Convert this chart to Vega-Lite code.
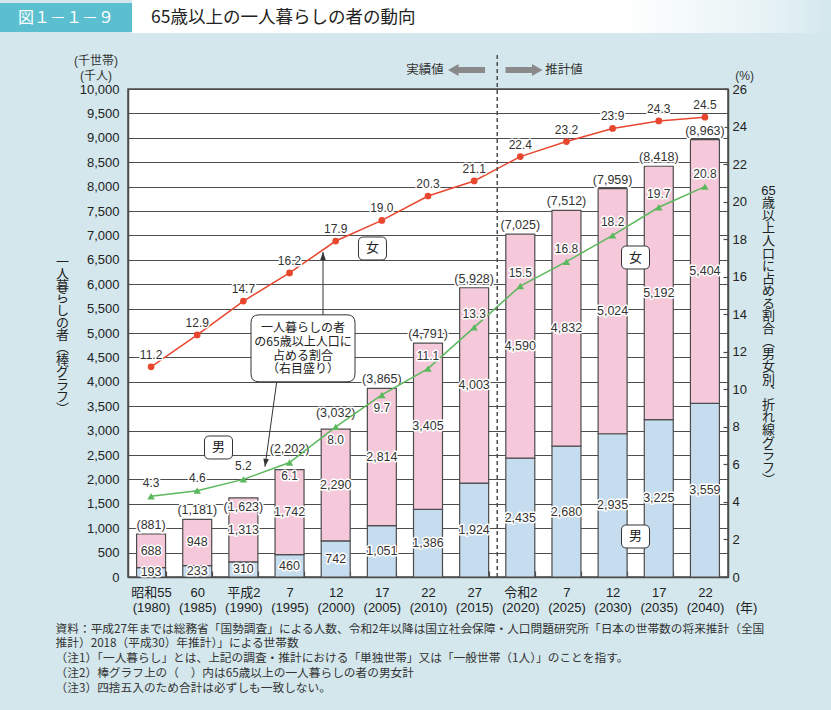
{
"$schema":"https://vega.github.io/schema/vega-lite/v6.json",
"width":600,"height":488,
"autosize":{"type":"none"},
"padding":{"left":128,"top":89,"right":103,"bottom":133},
"background":"#d3e7ed",
"config":{"font":"Liberation Sans, Noto Sans CJK JP, sans-serif","view":{"fill":"white","stroke":"#4d4d4d","strokeWidth":1.5}},
"datasets":{
"years":[
{"cat":"昭和55|(1980)","year":1980,"male":193,"female":688,"total":881,"fr":11.2,"mr":4.3},
{"cat":"60|(1985)","year":1985,"male":233,"female":948,"total":1181,"fr":12.9,"mr":4.6},
{"cat":"平成2|(1990)","year":1990,"male":310,"female":1313,"total":1623,"fr":14.7,"mr":5.2},
{"cat":"7|(1995)","year":1995,"male":460,"female":1742,"total":2202,"fr":16.2,"mr":6.1},
{"cat":"12|(2000)","year":2000,"male":742,"female":2290,"total":3032,"fr":17.9,"mr":8.0},
{"cat":"17|(2005)","year":2005,"male":1051,"female":2814,"total":3865,"fr":19.0,"mr":9.7},
{"cat":"22|(2010)","year":2010,"male":1386,"female":3405,"total":4791,"fr":20.3,"mr":11.1},
{"cat":"27|(2015)","year":2015,"male":1924,"female":4003,"total":5928,"fr":21.1,"mr":13.3},
{"cat":"令和2|(2020)","year":2020,"male":2435,"female":4590,"total":7025,"fr":22.4,"mr":15.5},
{"cat":"7|(2025)","year":2025,"male":2680,"female":4832,"total":7512,"fr":23.2,"mr":16.8},
{"cat":"12|(2030)","year":2030,"male":2935,"female":5024,"total":7959,"fr":23.9,"mr":18.2},
{"cat":"17|(2035)","year":2035,"male":3225,"female":5192,"total":8418,"fr":24.3,"mr":19.7},
{"cat":"22|(2040)","year":2040,"male":3559,"female":5404,"total":8963,"fr":24.5,"mr":20.8}
],
"notes":[
{"kind":"strip","ax":7.659,"ay":11486},
{"kind":"badge","ax":-1.343,"ay":11465,"label":"図１－１－９"},
{"kind":"title","ax":0.498,"ay":11465,"label":"65歳以上の一人暮らしの者の動向"},
{"kind":"divider","ax":8,"ay":0,"ay2":10738},
{"kind":"arrowL","ax":7.334,"ay":10389},
{"kind":"arrowR","ax":8.58,"ay":10389},
{"kind":"hdr","ax":6.435,"ay":10389,"label":"実績値"},
{"kind":"hdr","ax":9.447,"ay":10389,"label":"推計値"},
{"kind":"unit","ax":-0.693,"ay":10674,"label":["(千世帯)","(千人)"]},
{"kind":"unit","ax":13.36,"ay":10367,"label":"(%)"},
{"kind":"leader","ax":4.225,"ay":5369,"ax2":4.225,"ay2":6660},
{"kind":"leader","ax":3.222,"ay":4000,"ax2":2.968,"ay2":2260},
{"kind":"headUp","ax":4.225,"ay":6660},
{"kind":"headDown","ax":2.968,"ay":2260},
{"kind":"tag","ax":5.297,"ay":6732,"label":"女"},
{"kind":"tag","ax":10.996,"ay":6547,"label":"女"},
{"kind":"tag","ax":1.961,"ay":2654,"label":"男"},
{"kind":"tag","ax":10.996,"ay":830,"label":"男"},
{"kind":"callbox","ax":3.792,"ay":4686},
{"kind":"calltext","ax":3.792,"ay":5197,"label":["一人暮らしの者","の65歳以上人口に","占める割合","（右目盛り）"]},
{"kind":"source","ax":-1.569,"ay":-953,"label":["資料：平成27年までは総務省「国勢調査」による人数、令和2年以降は国立社会保障・人口問題研究所「日本の世帯数の将来推計（全国","　　　推計）2018（平成30）年推計）」による世帯数","（注1）「一人暮らし」とは、上記の調査・推計における「単独世帯」又は「一般世帯（1人）」のことを指す。","（注2）棒グラフ上の（　）内は65歳以上の一人暮らしの者の男女計","（注3）四捨五入のため合計は必ずしも一致しない。"]}
]
},
"layer":[
{
"data":{"name":"years"},
"encoding":{"x":{"field":"cat","type":"nominal","sort":null,
"scale":{"type":"band","domain":["昭和55|(1980)","60|(1985)","平成2|(1990)","7|(1995)","12|(2000)","17|(2005)","22|(2010)","27|(2015)","令和2|(2020)","7|(2025)","12|(2030)","17|(2035)","22|(2040)"],"paddingInner":0.372,"paddingOuter":0.186},
"axis":{"orient":"bottom","labelExpr":"isValid(datum.value) ? split(datum.value,'|') : ''","labelAngle":0,"labelFontSize":13,"labelColor":"#222","labelLineHeight":15,"labelPadding":15,"tickBand":"extent","tickSize":-6,"tickColor":"#4d4d4d","tickWidth":1.2,"domainColor":"#4d4d4d","domainWidth":1.5,"title":"(年)","titleX":618,"titleY":30,"titleAlign":"center","titleBaseline":"middle","titleFontSize":13,"titleFontWeight":"normal","titleColor":"#222"}}},
"layer":[
{"transform":[{"fold":["male","female"],"as":["sex","v"]},{"stack":"v","groupby":["cat"],"sort":[{"field":"sex","order":"descending"}],"as":["v0","v1"]}],
"mark":{"type":"bar","stroke":"#4d4d4d","strokeWidth":1.2},
"encoding":{"y":{"field":"v0","type":"quantitative","scale":{"domain":[0,10000],"nice":false,"zero":false},
"axis":{"orient":"left","tickCount":20,"format":",d","grid":true,"gridColor":"#4d4d4d","gridWidth":1.2,"ticks":false,"domainColor":"#4d4d4d","domainWidth":1.5,"labelFontSize":13,"labelColor":"#222","labelPadding":9,
"title":["一","人","暮","ら","し","の","者","︵","棒","グ","ラ","フ","︶"],"titleAngle":0,"titleX":-66,"titleY":166,"titleAlign":"center","titleBaseline":"top","titleFontSize":13,"titleFontWeight":"normal","titleLineHeight":12.3,"titleColor":"#222"}},
"y2":{"field":"v1"},
"color":{"field":"sex","type":"nominal","scale":{"domain":["male","female"],"range":["#c6dcef","#f5c9da"]},"legend":null}}},
{"transform":[{"fold":["male","female"],"as":["sex","v"]},{"stack":"v","groupby":["cat"],"sort":[{"field":"sex","order":"descending"}],"as":["v0","v1"]},{"fold":["v0","v1"],"as":["bk","bv"]},{"aggregate":[{"op":"mean","field":"bv","as":"mid"}],"groupby":["cat","sex","v"]}],
"mark":{"type":"text","fontSize":12.5,"baseline":"middle","fill":"white","stroke":"white","strokeWidth":3,"strokeJoin":"round"},
"encoding":{"y":{"field":"mid","type":"quantitative","scale":{"domain":[0,10000],"nice":false,"zero":false},"axis":null},"text":{"field":"v","type":"quantitative","format":","}}},
{"transform":[{"fold":["male","female"],"as":["sex","v"]},{"stack":"v","groupby":["cat"],"sort":[{"field":"sex","order":"descending"}],"as":["v0","v1"]},{"fold":["v0","v1"],"as":["bk","bv"]},{"aggregate":[{"op":"mean","field":"bv","as":"mid"}],"groupby":["cat","sex","v"]}],
"mark":{"type":"text","fontSize":12.5,"baseline":"middle","fill":"#333"},
"encoding":{"y":{"field":"mid","type":"quantitative","scale":{"domain":[0,10000],"nice":false,"zero":false},"axis":null},"text":{"field":"v","type":"quantitative","format":","}}},
{"transform":[{"filter":{"not":{"field":"year","oneOf":[1990,1995,2000]}}}],
"mark":{"type":"text","fontSize":12.5,"baseline":"middle","dy":-9,"fill":"white","stroke":"white","strokeWidth":3,"strokeJoin":"round","text":{"expr":"'(' + format(datum.total, ',') + ')'"}},
"encoding":{"y":{"field":"total","type":"quantitative","scale":{"domain":[0,10000],"nice":false,"zero":false},"axis":null}}},
{"transform":[{"filter":{"not":{"field":"year","oneOf":[1990,1995,2000]}}}],
"mark":{"type":"text","fontSize":12.5,"baseline":"middle","dy":-9,"fill":"#333","text":{"expr":"'(' + format(datum.total, ',') + ')'"}},
"encoding":{"y":{"field":"total","type":"quantitative","scale":{"domain":[0,10000],"nice":false,"zero":false},"axis":null}}},
{"transform":[{"filter":{"field":"year","equal":1990}}],
"mark":{"type":"text","fontSize":12.5,"baseline":"middle","dy":9,"fill":"white","stroke":"white","strokeWidth":3,"strokeJoin":"round","text":{"expr":"'(' + format(datum.total, ',') + ')'"}},
"encoding":{"y":{"field":"total","type":"quantitative","scale":{"domain":[0,10000],"nice":false,"zero":false},"axis":null}}},
{"transform":[{"filter":{"field":"year","equal":1990}}],
"mark":{"type":"text","fontSize":12.5,"baseline":"middle","dy":9,"fill":"#333","text":{"expr":"'(' + format(datum.total, ',') + ')'"}},
"encoding":{"y":{"field":"total","type":"quantitative","scale":{"domain":[0,10000],"nice":false,"zero":false},"axis":null}}},
{"transform":[{"filter":{"field":"year","equal":1995}}],
"mark":{"type":"text","fontSize":12.5,"baseline":"middle","dy":-21,"fill":"white","stroke":"white","strokeWidth":3,"strokeJoin":"round","text":{"expr":"'(' + format(datum.total, ',') + ')'"}},
"encoding":{"y":{"field":"total","type":"quantitative","scale":{"domain":[0,10000],"nice":false,"zero":false},"axis":null}}},
{"transform":[{"filter":{"field":"year","equal":1995}}],
"mark":{"type":"text","fontSize":12.5,"baseline":"middle","dy":-21,"fill":"#333","text":{"expr":"'(' + format(datum.total, ',') + ')'"}},
"encoding":{"y":{"field":"total","type":"quantitative","scale":{"domain":[0,10000],"nice":false,"zero":false},"axis":null}}},
{"transform":[{"filter":{"field":"year","equal":2000}}],
"mark":{"type":"text","fontSize":12.5,"baseline":"middle","dy":-16,"fill":"white","stroke":"white","strokeWidth":3,"strokeJoin":"round","text":{"expr":"'(' + format(datum.total, ',') + ')'"}},
"encoding":{"y":{"field":"total","type":"quantitative","scale":{"domain":[0,10000],"nice":false,"zero":false},"axis":null}}},
{"transform":[{"filter":{"field":"year","equal":2000}}],
"mark":{"type":"text","fontSize":12.5,"baseline":"middle","dy":-16,"fill":"#333","text":{"expr":"'(' + format(datum.total, ',') + ')'"}},
"encoding":{"y":{"field":"total","type":"quantitative","scale":{"domain":[0,10000],"nice":false,"zero":false},"axis":null}}},
{"mark":{"type":"line","color":"#e8472f","strokeWidth":1.5},
"encoding":{"y":{"field":"fr","type":"quantitative","scale":{"domain":[0,26],"nice":false,"zero":false},
"axis":{"orient":"right","tickCount":13,"grid":false,"ticks":true,"tickSize":-5,"tickColor":"#4d4d4d","tickWidth":1.2,"domainColor":"#4d4d4d","domainWidth":1.5,"labelFontSize":13,"labelColor":"#222","labelPadding":9,
"title":["65","歳","以","上","人","口","に","占","め","る","割","合","︵","男","女","別","︑","折","れ","線","グ","ラ","フ","︶"],"titleAngle":0,"titleX":40,"titleY":95,"titleAlign":"center","titleBaseline":"top","titleFontSize":13,"titleFontWeight":"normal","titleLineHeight":12.6,"titleColor":"#222"}},
"order":{"field":"year","type":"quantitative"}}},
{"mark":{"type":"point","shape":"circle","filled":true,"size":45,"color":"#e8472f","opacity":1},
"encoding":{"y":{"field":"fr","type":"quantitative","scale":{"domain":[0,26],"nice":false,"zero":false},"axis":null}}},
{"mark":{"type":"text","fontSize":12,"baseline":"middle","dy":-12,"fill":"white","stroke":"white","strokeWidth":3,"strokeJoin":"round"},
"encoding":{"y":{"field":"fr","type":"quantitative","scale":{"domain":[0,26],"nice":false,"zero":false},"axis":null},"text":{"field":"fr","type":"quantitative","format":".1f"}}},
{"mark":{"type":"text","fontSize":12,"baseline":"middle","dy":-12,"fill":"#333"},
"encoding":{"y":{"field":"fr","type":"quantitative","scale":{"domain":[0,26],"nice":false,"zero":false},"axis":null},"text":{"field":"fr","type":"quantitative","format":".1f"}}},
{"mark":{"type":"line","color":"#5cb85c","strokeWidth":1.5},
"encoding":{"y":{"field":"mr","type":"quantitative","scale":{"domain":[0,26],"nice":false,"zero":false},"axis":null},"order":{"field":"year","type":"quantitative"}}},
{"mark":{"type":"point","shape":"triangle-up","filled":true,"size":55,"color":"#5cb85c","opacity":1},
"encoding":{"y":{"field":"mr","type":"quantitative","scale":{"domain":[0,26],"nice":false,"zero":false},"axis":null}}},
{"transform":[{"filter":{"not":{"field":"year","oneOf":[1995,2000,2005]}}}],
"mark":{"type":"text","fontSize":12,"baseline":"middle","dy":-13,"fill":"white","stroke":"white","strokeWidth":3,"strokeJoin":"round"},
"encoding":{"y":{"field":"mr","type":"quantitative","scale":{"domain":[0,26],"nice":false,"zero":false},"axis":null},"text":{"field":"mr","type":"quantitative","format":".1f"}}},
{"transform":[{"filter":{"not":{"field":"year","oneOf":[1995,2000,2005]}}}],
"mark":{"type":"text","fontSize":12,"baseline":"middle","dy":-13,"fill":"#333"},
"encoding":{"y":{"field":"mr","type":"quantitative","scale":{"domain":[0,26],"nice":false,"zero":false},"axis":null},"text":{"field":"mr","type":"quantitative","format":".1f"}}},
{"transform":[{"filter":{"field":"year","oneOf":[1995,2000,2005]}}],
"mark":{"type":"text","fontSize":12,"baseline":"middle","dy":13,"fill":"white","stroke":"white","strokeWidth":3,"strokeJoin":"round"},
"encoding":{"y":{"field":"mr","type":"quantitative","scale":{"domain":[0,26],"nice":false,"zero":false},"axis":null},"text":{"field":"mr","type":"quantitative","format":".1f"}}},
{"transform":[{"filter":{"field":"year","oneOf":[1995,2000,2005]}}],
"mark":{"type":"text","fontSize":12,"baseline":"middle","dy":13,"fill":"#333"},
"encoding":{"y":{"field":"mr","type":"quantitative","scale":{"domain":[0,26],"nice":false,"zero":false},"axis":null},"text":{"field":"mr","type":"quantitative","format":".1f"}}}
],
"resolve":{"scale":{"y":"independent"}}
},
{
"data":{"name":"notes"},
"encoding":{"x":{"field":"ax","type":"quantitative","scale":{"domain":[0,13],"nice":false,"zero":false},"axis":null},
"y":{"field":"ay","type":"quantitative","scale":{"domain":[0,10000],"nice":false,"zero":false},"axis":null}},
"layer":[
{"transform":[{"filter":{"field":"kind","equal":"strip"}}],
"mark":{"type":"point","shape":"M-1,-0.0472L1,-0.0472L1,0.0472L-1,0.0472Z","size":488601,"filled":true,"opacity":1,"strokeWidth":0,
"fill":{"gradient":"linear","x1":0,"x2":1,"y1":0,"y2":0,"stops":[{"offset":0,"color":"#ffffff"},{"offset":0.7,"color":"#ffffff"},{"offset":0.93,"color":"#e4f1f4"},{"offset":1,"color":"#d3e7ed"}]}}},
{"transform":[{"filter":{"field":"kind","equal":"badge"}}],
"mark":{"type":"point","shape":"M-1,-0.22L1,-0.22L1,0.22L-1,0.22Z","size":17424,"filled":true,"opacity":1,"strokeWidth":0,"fill":"#5bbfcf"}},
{"transform":[{"filter":{"field":"kind","equal":"badge"}}],
"mark":{"type":"text","fontSize":16,"baseline":"middle","align":"center","fill":"white","font":"Noto Sans CJK JP"},
"encoding":{"text":{"field":"label","type":"nominal"}}},
{"transform":[{"filter":{"field":"kind","equal":"title"}}],
"mark":{"type":"text","fontSize":17.5,"baseline":"middle","align":"left","fill":"#222","font":"Noto Sans CJK JP"},
"encoding":{"text":{"field":"label","type":"nominal"}}},
{"transform":[{"filter":{"field":"kind","equal":"divider"}}],
"mark":{"type":"rule","strokeDash":[4,3],"color":"#4d4d4d","strokeWidth":1.5},
"encoding":{"y2":{"field":"ay2"}}},
{"transform":[{"filter":{"field":"kind","equal":"arrowL"}}],
"mark":{"type":"point","shape":"M-1,0L-0.43,-0.32L-0.43,-0.16L1,-0.16L1,0.16L-0.43,0.16L-0.43,0.32Z","size":1369,"filled":true,"opacity":1,"strokeWidth":0,"fill":"#8a8a8a"}},
{"transform":[{"filter":{"field":"kind","equal":"arrowR"}}],
"mark":{"type":"point","shape":"M1,0L0.43,-0.32L0.43,-0.16L-1,-0.16L-1,0.16L0.43,0.16L0.43,0.32Z","size":1369,"filled":true,"opacity":1,"strokeWidth":0,"fill":"#8a8a8a"}},
{"transform":[{"filter":{"field":"kind","equal":"hdr"}}],
"mark":{"type":"text","fontSize":12.5,"baseline":"middle","align":"center","fill":"#333"},
"encoding":{"text":{"field":"label","type":"nominal"}}},
{"transform":[{"filter":{"field":"kind","equal":"unit"}}],
"mark":{"type":"text","fontSize":12,"baseline":"top","align":"center","lineHeight":15,"fill":"#333"},
"encoding":{"text":{"field":"label","type":"nominal"}}},
{"transform":[{"filter":{"field":"kind","equal":"leader"}}],
"mark":{"type":"rule","color":"#333","strokeWidth":1},
"encoding":{"x2":{"field":"ax2"},"y2":{"field":"ay2"}}},
{"transform":[{"filter":{"field":"kind","equal":"headUp"}}],
"mark":{"type":"point","shape":"M0,0L-0.35,1L0.35,1Z","size":256,"filled":true,"opacity":1,"strokeWidth":0,"fill":"#333"}},
{"transform":[{"filter":{"field":"kind","equal":"headDown"}}],
"mark":{"type":"point","shape":"M0,0L-0.35,-1L0.35,-1Z","size":256,"angle":8,"filled":true,"opacity":1,"strokeWidth":0,"fill":"#333"}},
{"transform":[{"filter":{"field":"kind","equal":"tag"}}],
"mark":{"type":"point","shape":"M-0.643,-0.821L0.643,-0.821Q1,-0.821 1,-0.464L1,0.464Q1,0.821 0.643,0.821L-0.643,0.821Q-1,0.821 -1,0.464L-1,-0.464Q-1,-0.821 -0.643,-0.821Z","size":784,"filled":true,"opacity":1,"fill":"white","stroke":"#333","strokeWidth":1}},
{"transform":[{"filter":{"field":"kind","equal":"tag"}}],
"mark":{"type":"text","fontSize":13,"baseline":"middle","align":"center","fill":"#222","font":"Noto Sans CJK JP"},
"encoding":{"text":{"field":"label","type":"nominal"}}},
{"transform":[{"filter":{"field":"kind","equal":"callbox"}}],
"mark":{"type":"point","shape":"M-0.846,-0.644L0.846,-0.644Q1,-0.644 1,-0.49L1,0.49Q1,0.644 0.846,0.644L-0.846,0.644Q-1,0.644 -1,0.49L-1,-0.49Q-1,-0.644 -0.846,-0.644Z","size":10816,"filled":true,"opacity":1,"fill":"white","stroke":"#333","strokeWidth":1}},
{"transform":[{"filter":{"field":"kind","equal":"calltext"}}],
"mark":{"type":"text","fontSize":12,"baseline":"top","align":"center","lineHeight":13.7,"fill":"#222","font":"Noto Sans CJK JP"},
"encoding":{"text":{"field":"label","type":"nominal"}}},
{"transform":[{"filter":{"field":"kind","equal":"source"}}],
"mark":{"type":"text","fontSize":11.7,"baseline":"top","align":"left","lineHeight":14.8,"fill":"#333","font":"Noto Sans CJK JP"},
"encoding":{"text":{"field":"label","type":"nominal"}}}
]
}
],
"resolve":{"scale":{"x":"independent","y":"independent"}}
}
